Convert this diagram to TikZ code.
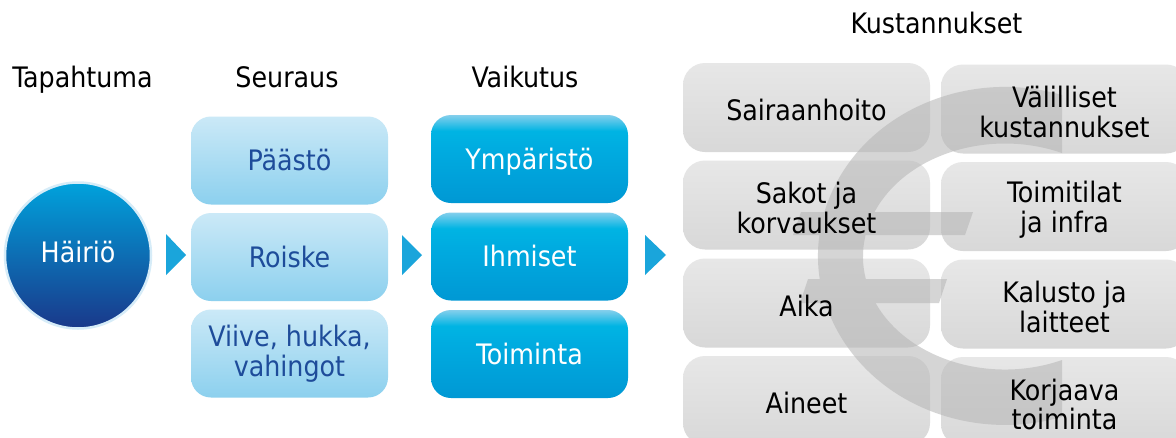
\documentclass[tikz,border=0pt]{standalone}
\usepackage{fontspec}
\setmainfont{DejaVu Sans Condensed}
\definecolor{seutop}{HTML}{CBE9F7}
\definecolor{seubot}{HTML}{8CD0EE}
\definecolor{seutext}{HTML}{1E4C9A}
\definecolor{vbot}{HTML}{0098D4}
\definecolor{vmid}{HTML}{00ABE0}
\definecolor{vmid2}{HTML}{00B4E3}
\definecolor{vtop}{HTML}{84CFEC}
\definecolor{costtop}{HTML}{E7E7E7}
\definecolor{costbot}{HTML}{D8D8D8}
\definecolor{circtop}{HTML}{00A2DC}
\definecolor{circbot}{HTML}{1A388A}
\definecolor{halo}{HTML}{D6ECF8}
\definecolor{tricol}{HTML}{1AA5DB}
\definecolor{eurogray}{HTML}{B4B4B4}
\pgfdeclareverticalshading{vaikshade}{100bp}{color(0bp)=(vbot); color(25bp)=(vbot); color(55bp)=(vmid); color(66bp)=(vmid2); color(75bp)=(vtop); color(100bp)=(vtop)}
\begin{document}
\begin{tikzpicture}[x=1pt,y=-1pt,
  every node/.style={font=\fontsize{28.2}{29.5}\selectfont, inner sep=0pt},
  one/.style={text height=20.5pt, text depth=0pt},
  head/.style={anchor=base, text=black},
  seubox/.style={rounded corners=20pt, top color=seutop, bottom color=seubot, minimum width=197pt, minimum height=88pt, text=seutext, align=center},
  vaibox/.style={rounded corners=20pt, shading=vaikshade, minimum width=197pt, minimum height=88pt, text=white, align=center},
  costbox/.style={rounded corners=22pt, top color=costtop, bottom color=costbot, minimum width=247pt, minimum height=89pt},
  costtext/.style={text=black, align=center, yshift=-3pt},
  tri/.style={fill=tricol},
  euro/.style={fill=eurogray, fill opacity=0.55}]
\useasboundingbox (0,0) rectangle (1176,437);
\clip (0,0) rectangle (1176,437);
\fill[white] (0,0) rectangle (1176,437);

% headings
\node[head] (hT) at (82.5,87) {Tapahtuma};
\node[head] (hS) at (287,87) {Seuraus};
\node[head] (hV) at (525,87) {Vaikutus};
\node[head] (hK) at (936.5,33) {Kustannukset};

% event
\node[circle, minimum size=146pt, draw=halo, line width=2.5pt, top color=circtop, bottom color=circbot, text=white, text height=20.5pt, text depth=7pt] (hairio) at (78,255.5) {Häiriö};

% arrows
\fill[tri] (166,234) -- (186,255) -- (166,275) -- cycle;
\fill[tri] (402,235) -- (422,255) -- (402,275) -- cycle;
\fill[tri] (645,235) -- (666,255) -- (645,275) -- cycle;

% seuraus
\node[seubox, one] (s1) at (289.5,160.5) {Päästö};
\node[seubox, one] (s2) at (289.5,257) {Roiske};
\node[seubox] (s3) at (289.5,353.5) {Viive, hukka,\\vahingot};

% vaikutus
\node[vaibox, one] (v1) at (529.5,159) {Ympäristö};
\node[vaibox, one] (v2) at (529.5,256.5) {Ihmiset};
\node[vaibox, one] (v3) at (529.5,354) {Toiminta};

% cost boxes
\node[costbox] (k1) at (806.5,107.5) {};
\node[costbox] (k2) at (806.5,205) {};
\node[costbox] (k3) at (806.5,303) {};
\node[costbox] (k4) at (806.5,400.5) {};
\node[costbox] (k5) at (1064.5,109) {};
\node[costbox] (k6) at (1064.5,206.5) {};
\node[costbox] (k7) at (1064.5,304) {};
\node[costbox] (k8) at (1064.5,401.5) {};

% euro sign
\fill[euro] (1062,95) arc[start angle=-72.25, end angle=-287.75, x radius=187, y radius=169]
  -- (1062,360) arc[start angle=-293.67, end angle=-66.33, x radius=142, y radius=113] -- cycle
  (801,212) -- (793,235) -- (965,235) -- (973,212) -- cycle
  (808,279) -- (800,303) -- (939,303) -- (947,279) -- cycle;

% cost texts
\node[costtext, one] (t1) at (k1) {Sairaanhoito};
\node[costtext] (t2) at (k2) {Sakot ja\\korvaukset};
\node[costtext, one] (t3) at (k3) {Aika};
\node[costtext, one] (t4) at (k4) {Aineet};
\node[costtext] (t5) at (k5) {Välilliset\\kustannukset};
\node[costtext] (t6) at (k6) {Toimitilat\\ja infra};
\node[costtext] (t7) at (k7) {Kalusto ja\\laitteet};
\node[costtext] (t8) at (k8) {Korjaava\\toiminta};
\end{tikzpicture}
\end{document}
